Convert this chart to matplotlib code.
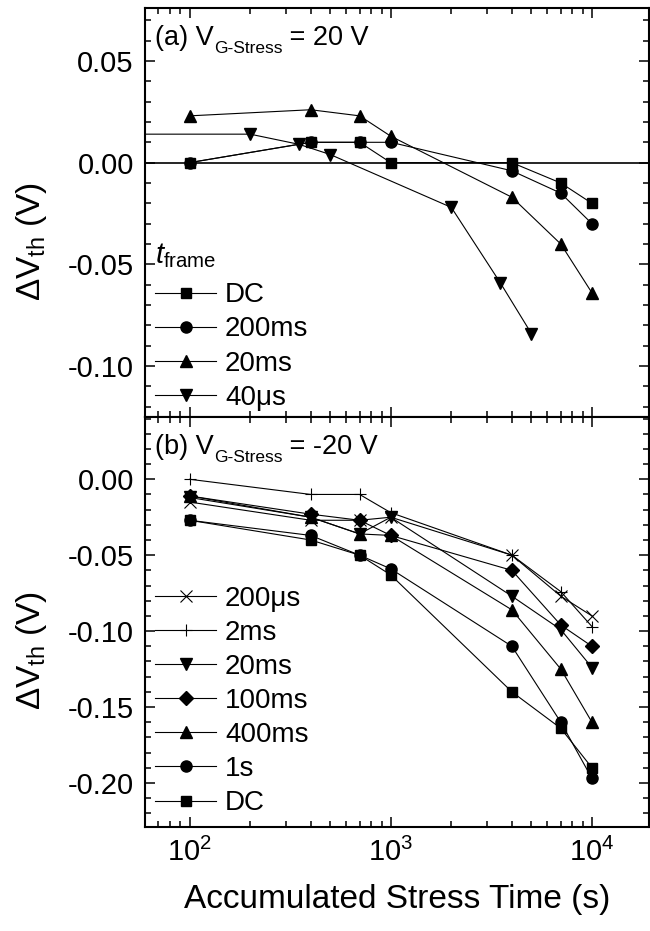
import matplotlib
matplotlib.use("Agg")
import matplotlib.pyplot as plt
from matplotlib.ticker import LogLocator, MultipleLocator, NullFormatter

plt.rcParams['font.family'] = ['Liberation Sans', 'DejaVu Sans']
plt.rcParams['mathtext.fontset'] = 'custom'
plt.rcParams['mathtext.rm'] = 'Liberation Sans'
plt.rcParams['mathtext.it'] = 'Liberation Sans:italic'
plt.rcParams['mathtext.bf'] = 'Liberation Sans:bold'

# (a) V_G-Stress = 20 V
time_a = [100, 400, 700, 1000, 4000, 7000, 10000]
dc_a = [0.000, 0.010, 0.010, 0.000, 0.000, -0.010, -0.020]
ms200_a = [0.000, 0.010, 0.010, 0.010, -0.004, -0.015, -0.030]
ms20_a = [0.023, 0.026, 0.023, 0.013, -0.017, -0.040, -0.064]
time_us40_a = [20, 200, 350, 500, 2000, 3500, 5000]
us40_a = [0.014, 0.014, 0.009, 0.004, -0.022, -0.059, -0.084]

# (b) V_G-Stress = -20 V
time_b = [100, 400, 700, 1000, 4000, 7000, 10000]
us200_b = [-0.015, -0.027, -0.027, -0.025, -0.050, -0.077, -0.090]
ms2_b = [0.000, -0.010, -0.010, -0.022, -0.050, -0.074, -0.097]
ms20_b = [-0.012, -0.025, -0.036, -0.025, -0.077, -0.099, -0.124]
ms100_b = [-0.011, -0.023, -0.027, -0.037, -0.060, -0.096, -0.110]
ms400_b = [-0.011, -0.025, -0.036, -0.037, -0.086, -0.125, -0.160]
s1_b = [-0.027, -0.037, -0.050, -0.059, -0.110, -0.160, -0.197]
dc_b = [-0.027, -0.040, -0.050, -0.063, -0.140, -0.164, -0.190]

lw = 0.8
fig = plt.figure(figsize=(6.5, 9.31), dpi=100)
ax_a = fig.add_axes([0.223, 0.5521, 0.7754, 0.4393])
ax_b = fig.add_axes([0.223, 0.1117, 0.7754, 0.4404])

# panel (a)
ax_a.axhline(0, color="black", lw=1.2, zorder=1)
ax_a.plot(time_a, dc_a, "-s", color="black", lw=lw, ms=7.5, label="DC")
ax_a.plot(time_a, ms200_a, "-o", color="black", lw=lw, ms=8, label="200ms")
ax_a.plot(time_a, ms20_a, "-^", color="black", lw=lw, ms=8.5, label="20ms")
ax_a.plot(time_us40_a, us40_a, "-v", color="black", lw=lw, ms=8.5, label="40μs")

# panel (b)
ax_b.plot(time_b, us200_b, "-x", color="black", lw=lw, ms=8.5, mew=0.8, label="200μs")
ax_b.plot(time_b, ms2_b, "-+", color="black", lw=lw, ms=8.5, mew=0.8, label="2ms")
ax_b.plot(time_b, ms20_b, "-v", color="black", lw=lw, ms=8.5, label="20ms")
ax_b.plot(time_b, ms100_b, "-D", color="black", lw=lw, ms=7.5, label="100ms")
ax_b.plot(time_b, ms400_b, "-^", color="black", lw=lw, ms=8.5, label="400ms")
ax_b.plot(time_b, s1_b, "-o", color="black", lw=lw, ms=8, label="1s")
ax_b.plot(time_b, dc_b, "-s", color="black", lw=lw, ms=7.5, label="DC")

for ax in (ax_a, ax_b):
    ax.set_xscale("log")
    ax.set_xlim(60, 19200)
    ax.xaxis.set_major_locator(LogLocator(base=10, numticks=10))
    ax.xaxis.set_minor_locator(LogLocator(base=10, subs=range(2, 10), numticks=20))
    ax.xaxis.set_minor_formatter(NullFormatter())
    ax.yaxis.set_major_locator(MultipleLocator(0.05))
    ax.yaxis.set_minor_locator(MultipleLocator(0.01))
    ax.yaxis.set_major_formatter(plt.FuncFormatter(lambda v, p: f"{v:.2f}".replace("-0.00", "0.00")))
    ax.tick_params(which="both", direction="in", top=True, right=True, width=1.1)
    ax.tick_params(which="major", length=7, labelsize=21, pad=8)
    ax.tick_params(which="minor", length=4)
    for sp in ax.spines.values():
        sp.set_linewidth(1.5)
    ax.set_ylabel("ΔV$_{\\mathrm{th}}$ (V)", fontsize=24)
    ax.yaxis.set_label_coords(-0.19, 0.43)

ax_a.set_ylim(-0.125, 0.076)
ax_b.set_ylim(-0.229, 0.041)
ax_a.tick_params(labelbottom=False)
ax_b.set_xlabel("Accumulated Stress Time (s)", fontsize=24, labelpad=12)


def panel_title(ax, head, tail):
    t1 = ax.text(0.02, 0.927, head, transform=ax.transAxes, fontsize=19.5,
                 va="center", ha="left")
    t2 = ax.annotate("G-Stress", xy=(1, 0.08), xycoords=t1, fontsize=12.5,
                     va="center", ha="left")
    ax.annotate(tail, xy=(1, 0.5), xycoords=(t2, t1), fontsize=19.5,
                va="center", ha="left")


panel_title(ax_a, "(a) V", " = 20 V")
panel_title(ax_b, "(b) V", " = -20 V")

leg_a = ax_a.legend(loc="upper left", bbox_to_anchor=(0.02, 0.43), frameon=False,
                    fontsize=20, title="$t_{\\mathrm{frame}}$", title_fontsize=21,
                    alignment="left", handlelength=2.2, handletextpad=0.32,
                    labelspacing=0.29, borderpad=0, borderaxespad=0)
leg_a._legend_box.sep = 9
ax_b.legend(loc="upper left", bbox_to_anchor=(0.02, 0.588), frameon=False,
            fontsize=20, handlelength=2.2, handletextpad=0.32,
            labelspacing=0.29, borderpad=0, borderaxespad=0)

fig.savefig("out.png", dpi=100)
